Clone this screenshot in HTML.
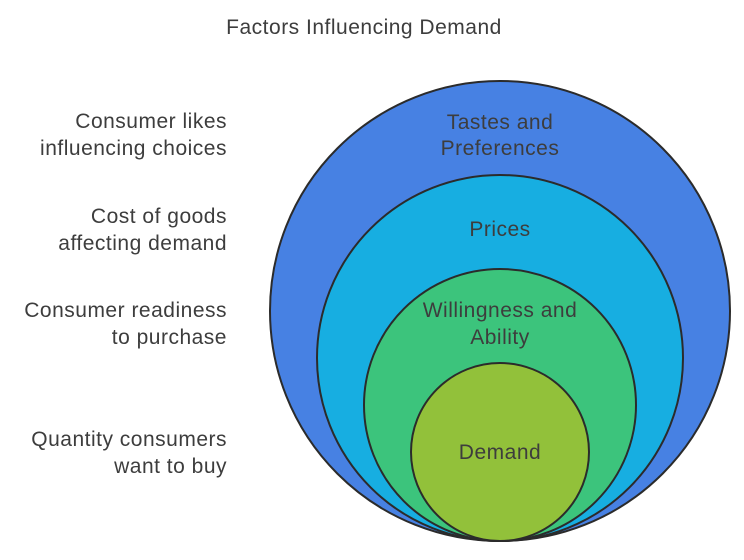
<!DOCTYPE html>
<html><head><meta charset="utf-8"><style>
body{margin:0;background:#fff;}
svg text{font-family:"Liberation Sans",sans-serif;fill:#3d3d3d;font-size:21px;letter-spacing:0.5px;}
</style></head><body>
<svg width="744" height="555" viewBox="0 0 744 555" xmlns="http://www.w3.org/2000/svg">
<text x="364" y="34" text-anchor="middle">Factors Influencing Demand</text>
<circle cx="500" cy="311" r="230" fill="#4781e3" stroke="#2b2b2b" stroke-width="2"/>
<circle cx="500" cy="358" r="183" fill="#17aee1" stroke="#2b2b2b" stroke-width="2"/>
<circle cx="500" cy="405" r="136" fill="#3cc47c" stroke="#2b2b2b" stroke-width="2"/>
<circle cx="500" cy="452" r="89" fill="#92c13a" stroke="#2b2b2b" stroke-width="2"/>
<g text-anchor="middle">
<text x="500" y="129">Tastes and</text><text x="500" y="155">Preferences</text>
<text x="500" y="236">Prices</text>
<text x="500" y="317">Willingness and</text><text x="500" y="344">Ability</text>
<text x="500" y="459">Demand</text>
</g>
<g text-anchor="end">
<text x="227" y="128">Consumer likes</text><text x="227" y="155">influencing choices</text>
<text x="227" y="223">Cost of goods</text><text x="227" y="250">affecting demand</text>
<text x="227" y="317">Consumer readiness</text><text x="227" y="344">to purchase</text>
<text x="227" y="446">Quantity consumers</text><text x="227" y="473">want to buy</text>
</g>
</svg>
</body></html>
